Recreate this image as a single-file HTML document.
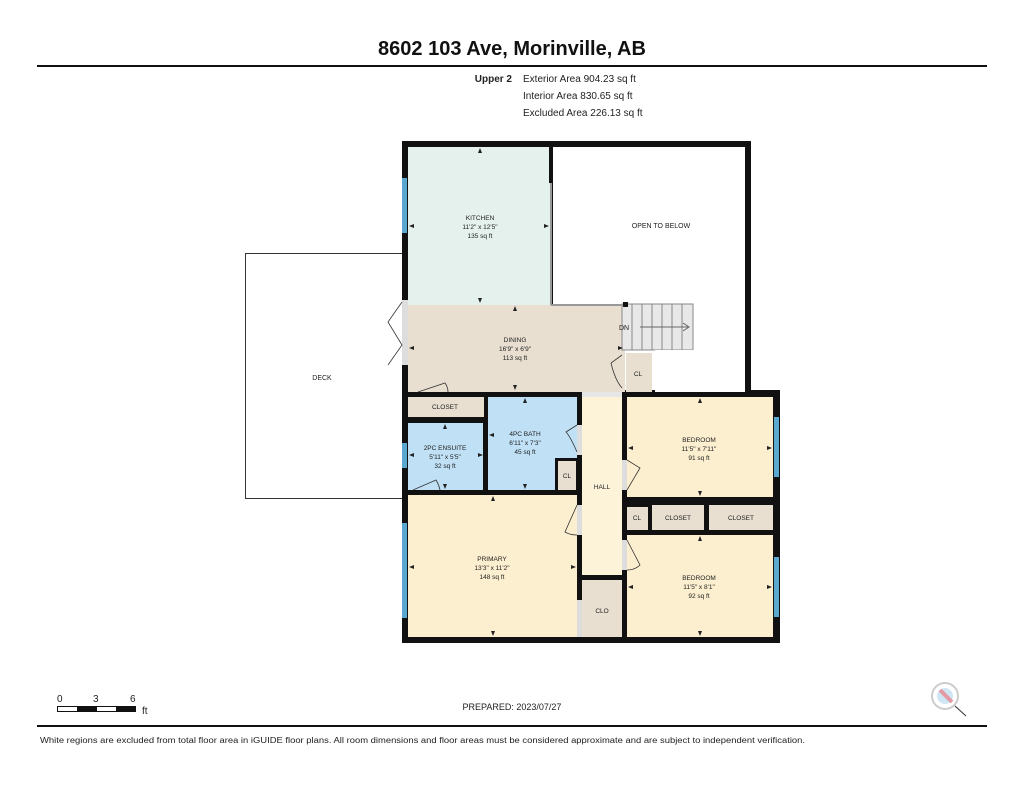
<!DOCTYPE html>
<html><head><meta charset="utf-8"><style>
html,body{margin:0;padding:0;background:#fff;width:1024px;height:791px;overflow:hidden}
svg text{font-family:"Liberation Sans",Arial,sans-serif}
</style></head><body>
<svg width="1024" height="791" viewBox="0 0 1024 791" xmlns="http://www.w3.org/2000/svg">
<defs>
<path id="au" d="M-2 2 L0 -3 L2 2 Z" fill="#222"/>
<path id="ad" d="M-2 -2 L0 3 L2 -2 Z" fill="#222"/>
<path id="al" d="M2 -2 L-3 0 L2 2 Z" fill="#222"/>
<path id="ar" d="M-2 -2 L3 0 L-2 2 Z" fill="#222"/>
</defs>
<text x="512" y="55" font-size="20" font-weight="bold" text-anchor="middle" fill="#111">8602 103 Ave, Morinville, AB</text>
<rect x="37" y="65" width="950" height="2" fill="#111"/>
<text x="512" y="82" font-size="10" font-weight="bold" text-anchor="end" fill="#222">Upper 2</text>
<text x="523" y="82" font-size="10" fill="#222">Exterior Area 904.23 sq ft</text>
<text x="523" y="99" font-size="10" fill="#222">Interior Area 830.65 sq ft</text>
<text x="523" y="116" font-size="10" fill="#222">Excluded Area 226.13 sq ft</text>

<rect x="245.5" y="253.5" width="157" height="245" fill="#fff" stroke="#333" stroke-width="1"/>
<text x="322" y="380" font-size="7" text-anchor="middle" fill="#222">DECK</text>

<rect x="402" y="141" width="378" height="502" fill="#111"/>
<rect x="751" y="141" width="30" height="249" fill="#fff"/>
<rect x="408" y="147" width="143" height="158" fill="#e4f1ec"/>
<rect x="553" y="147" width="192" height="243" fill="#fff"/>
<rect x="408" y="305" width="217" height="87" fill="#e8dfd0"/>
<rect x="622" y="304" width="71" height="46" fill="#e8e8e8" stroke="#888" stroke-width="1"/>
<g stroke="#888" stroke-width="1"><line x1="632" y1="304" x2="632" y2="350"/><line x1="642" y1="304" x2="642" y2="350"/><line x1="652" y1="304" x2="652" y2="350"/><line x1="662" y1="304" x2="662" y2="350"/><line x1="672" y1="304" x2="672" y2="350"/><line x1="682" y1="304" x2="682" y2="350"/></g>
<rect x="655" y="350" width="90" height="42" fill="#fff"/>
<rect x="626" y="353" width="26" height="39" fill="#e8dfd0"/>
<line x1="551" y1="147" x2="551" y2="305" stroke="#999" stroke-width="2"/>
<line x1="551" y1="305" x2="625" y2="305" stroke="#999" stroke-width="2"/>
<rect x="549" y="147" width="4" height="36" fill="#111"/>
<rect x="623" y="302" width="5" height="5" fill="#111"/>
<line x1="640" y1="327" x2="688" y2="327" stroke="#666"/><path d="M683 323 L689 327 L683 331" fill="none" stroke="#666"/>

<rect x="408" y="397" width="76" height="20" fill="#e8dfd0"/>
<rect x="408" y="423" width="75" height="67" fill="#bfe0f5"/>
<rect x="488" y="397" width="89" height="93" fill="#bfe0f5"/>
<rect x="555" y="458" width="22" height="32" fill="#111"/>
<rect x="558" y="461" width="18" height="29" fill="#e8dfd0"/>
<rect x="582" y="397" width="40" height="178" fill="#fcf3d8"/>
<rect x="627" y="397" width="146" height="100" fill="#fcefcf"/>
<rect x="627" y="507" width="21" height="23" fill="#e8dfd0"/>
<rect x="652" y="505" width="52" height="25" fill="#e8dfd0"/>
<rect x="709" y="505" width="64" height="25" fill="#e8dfd0"/>
<rect x="627" y="535" width="146" height="102" fill="#fcefcf"/>
<rect x="408" y="495" width="169" height="142" fill="#fcefcf"/>
<rect x="582" y="580" width="40" height="57" fill="#e8dfd0"/>
<rect x="577" y="397" width="5" height="240" fill="#111"/>
<rect x="622" y="397" width="5" height="240" fill="#111"/>
<rect x="582" y="392" width="40" height="5" fill="#e6e6e6"/>
<rect x="402" y="300" width="6" height="65" fill="#ddd"/>
<rect x="577" y="425" width="5" height="30" fill="#ddd"/>
<rect x="577" y="505" width="5" height="30" fill="#ddd"/>
<rect x="622" y="460" width="5" height="30" fill="#ddd"/>
<rect x="622" y="540" width="5" height="30" fill="#ddd"/>
<rect x="577" y="600" width="5" height="37" fill="#ddd"/>
<rect x="402" y="178" width="5" height="55" fill="#5aa7d0"/>
<rect x="402" y="443" width="5" height="25" fill="#5aa7d0"/>
<rect x="402" y="523" width="5" height="95" fill="#5aa7d0"/>
<rect x="774" y="417" width="5" height="60" fill="#5aa7d0"/>
<rect x="774" y="557" width="5" height="60" fill="#5aa7d0"/>
<g fill="none" stroke="#333" stroke-width="0.8">
<path d="M402 302 L388 322 L402 345 L388 365"/>
<path d="M418 392 L445 383 Q448 387 448 392"/>
<path d="M413 490 L436 480 Q439 485 440 490"/>
<path d="M577 425 L566 432 Q570 436 577 452"/>
<path d="M577 505 L565 532 Q570 535 577 535"/>
<path d="M627 460 L640 468 L627 490"/>
<path d="M627 540 L640 565 Q635 570 627 570"/>
<path d="M622 355 L611 363 Q615 380 622 388"/>
</g>

<!-- dimension arrows -->
<use href="#au" x="480" y="151"/><use href="#ad" x="480" y="300"/><use href="#al" x="412" y="226"/><use href="#ar" x="546" y="226"/>
<use href="#au" x="515" y="309"/><use href="#ad" x="515" y="387"/><use href="#al" x="412" y="348"/><use href="#ar" x="620" y="348"/>
<use href="#au" x="445" y="427"/><use href="#ad" x="445" y="486"/><use href="#al" x="412" y="455"/><use href="#ar" x="480" y="455"/>
<use href="#au" x="525" y="401"/><use href="#ad" x="525" y="486"/><use href="#al" x="492" y="435"/>
<use href="#au" x="700" y="401"/><use href="#ad" x="700" y="493"/><use href="#al" x="631" y="448"/><use href="#ar" x="769" y="448"/>
<use href="#au" x="493" y="499"/><use href="#ad" x="493" y="633"/><use href="#al" x="412" y="567"/><use href="#ar" x="573" y="567"/>
<use href="#au" x="700" y="539"/><use href="#ad" x="700" y="633"/><use href="#al" x="631" y="587"/><use href="#ar" x="769" y="587"/>

<g font-size="6.5" fill="#222" text-anchor="middle">
<text x="480" y="220">KITCHEN</text><text x="480" y="229">11'2" x 12'5"</text><text x="480" y="238">135 sq ft</text>
<text x="661" y="228" font-size="7">OPEN TO BELOW</text>
<text x="515" y="342">DINING</text><text x="515" y="351">16'9" x 6'9"</text><text x="515" y="360">113 sq ft</text>
<text x="624" y="330" font-size="7">DN</text>
<text x="638" y="376">CL</text>
<text x="445" y="409">CLOSET</text>
<text x="445" y="450">2PC ENSUITE</text><text x="445" y="459">5'11" x 5'5"</text><text x="445" y="468">32 sq ft</text>
<text x="525" y="436">4PC BATH</text><text x="525" y="445">6'11" x 7'3"</text><text x="525" y="454">45 sq ft</text>
<text x="567" y="478">CL</text>
<text x="602" y="489">HALL</text>
<text x="699" y="442">BEDROOM</text><text x="699" y="451">11'5" x 7'11"</text><text x="699" y="460">91 sq ft</text>
<text x="637" y="520">CL</text>
<text x="678" y="520">CLOSET</text>
<text x="741" y="520">CLOSET</text>
<text x="492" y="561">PRIMARY</text><text x="492" y="570">13'3" x 11'2"</text><text x="492" y="579">148 sq ft</text>
<text x="699" y="580">BEDROOM</text><text x="699" y="589">11'5" x 8'1"</text><text x="699" y="598">92 sq ft</text>
<text x="602" y="613">CLO</text>
</g>

<g font-size="10" fill="#222"><text x="57" y="702">0</text><text x="93" y="702">3</text><text x="130" y="702">6</text><text x="142" y="714">ft</text></g>
<rect x="57.5" y="706.5" width="78" height="5" fill="#fff" stroke="#111"/>
<rect x="77" y="706" width="20" height="6" fill="#111"/><rect x="116" y="706" width="20" height="6" fill="#111"/>
<text x="512" y="710" font-size="9" text-anchor="middle" fill="#222">PREPARED: 2023/07/27</text>
<circle cx="945" cy="696" r="13" fill="#fff" stroke="#ccc" stroke-width="2"/>
<circle cx="945" cy="696" r="8" fill="#cfe6f3"/>
<path d="M940 690 L952 702" stroke="#e39aa5" stroke-width="4"/>
<path d="M955 706 L966 716" stroke="#333" stroke-width="1"/>
<rect x="37" y="725" width="950" height="2" fill="#111"/>
<text x="40" y="743" font-size="8" fill="#222" textLength="765" lengthAdjust="spacingAndGlyphs">White regions are excluded from total floor area in iGUIDE floor plans. All room dimensions and floor areas must be considered approximate and are subject to independent verification.</text>
</svg>
</body></html>
